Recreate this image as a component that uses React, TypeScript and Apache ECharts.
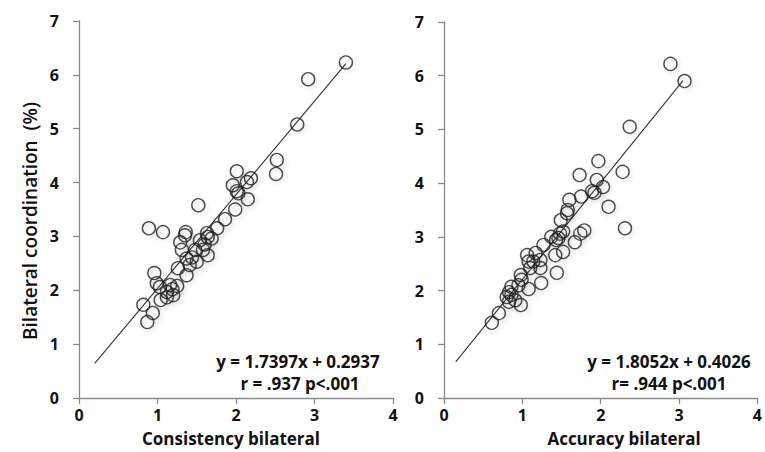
import React, { useEffect, useRef } from "react";
import * as echarts from "echarts";

const xTicks = [0, 1, 2, 3, 4];
const yTicks = [0, 1, 2, 3, 4, 5, 6, 7];

const consistencyX = [3.40, 2.92, 2.78, 2.52, 2.51, 2.01, 2.19, 2.14, 1.96, 2.01, 2.03, 2.15, 1.99, 1.86, 1.52, 1.76, 0.89, 1.07, 1.36, 1.35, 1.29, 1.63, 1.64, 1.54, 1.69, 1.31, 1.48, 1.58, 1.64, 1.37, 1.50, 1.26, 1.41, 1.37, 0.96, 0.99, 1.03, 1.16, 1.25, 1.12, 1.20, 1.04, 1.12, 0.82, 0.94, 0.87, 1.19, 1.44, 1.60];
const consistencyY = [6.23, 5.92, 5.08, 4.42, 4.16, 4.21, 4.08, 4.01, 3.95, 3.84, 3.80, 3.69, 3.50, 3.32, 3.58, 3.15, 3.15, 3.08, 3.08, 3.02, 2.89, 3.06, 2.99, 2.93, 2.96, 2.75, 2.75, 2.75, 2.65, 2.59, 2.53, 2.41, 2.47, 2.28, 2.32, 2.13, 2.06, 2.10, 2.08, 1.97, 1.91, 1.82, 1.87, 1.73, 1.58, 1.41, 2.02, 2.61, 2.85];

const accuracyX = [2.89, 3.07, 2.37, 1.97, 1.73, 2.28, 1.95, 2.03, 1.89, 1.92, 1.75, 1.60, 2.10, 1.58, 1.57, 1.49, 2.31, 1.79, 1.74, 1.67, 1.48, 1.43, 1.37, 1.52, 1.42, 1.27, 1.17, 1.06, 1.08, 1.14, 1.23, 1.10, 1.23, 1.44, 0.98, 0.99, 0.86, 0.95, 1.24, 1.08, 0.83, 0.80, 0.86, 0.91, 0.83, 0.98, 0.70, 0.61, 1.46, 1.52];
const accuracyY = [6.22, 5.90, 5.05, 4.41, 4.15, 4.21, 4.06, 3.93, 3.85, 3.82, 3.75, 3.69, 3.56, 3.50, 3.44, 3.31, 3.16, 3.12, 3.06, 2.90, 3.06, 2.94, 3.00, 2.72, 2.66, 2.85, 2.70, 2.66, 2.54, 2.54, 2.57, 2.42, 2.42, 2.33, 2.29, 2.20, 2.07, 2.10, 2.14, 2.03, 1.97, 1.88, 1.92, 1.82, 1.79, 1.73, 1.58, 1.40, 2.98, 3.10];

// regression fits: [slope, intercept], x range of the drawn line
const consistencyFit = [1.7397, 0.2937];
const consistencyRange = [0.2, 3.4];
const accuracyFit = [1.8052, 0.4026];
const accuracyRange = [0.15, 3.05];

const leftEquation = ["y = 1.7397x + 0.2937", "r = .937 p<.001"];
const rightEquation = ["y = 1.8052x + 0.4026", "r= .944 p<.001"];
const xNames = ["Consistency bilateral", "Accuracy bilateral"];
const yName = "Bilateral coordination  (%)";

const FONT = "'Open Sans', 'Liberation Sans', sans-serif";

function pairs(xs: number[], ys: number[]) {
  return xs.map((x, i) => [x, ys[i]]);
}
function fitLine(fit: number[], range: number[]) {
  return range.map((x) => [x, fit[0] * x + fit[1]]);
}

export default function App() {
  const ref = useRef<HTMLDivElement>(null);
  useEffect(() => {
    if (!ref.current) return;
    const chart = echarts.init(ref.current, undefined, { renderer: "svg" });
    const axisLine = { show: true, lineStyle: { color: "#8a8a8a", width: 1.3 } };
    const axisTick = { show: true, length: 6, lineStyle: { color: "#8a8a8a", width: 1.3 } };
    const labelStyle = { color: "#111", fontSize: 16, fontWeight: "bold" as const, fontFamily: FONT };
    const mkX = (gi: number) => ({
      type: "value",
      gridIndex: gi,
      min: xTicks[0],
      max: xTicks[xTicks.length - 1],
      interval: 1,
      axisLine,
      axisTick,
      splitLine: { show: false },
      axisLabel: { ...labelStyle, margin: 9 },
    });
    const mkY = (gi: number) => ({
      type: "value",
      gridIndex: gi,
      min: yTicks[0],
      max: yTicks[yTicks.length - 1],
      interval: 1,
      axisLine,
      axisTick,
      splitLine: { show: false },
      axisLabel: { ...labelStyle, margin: 20 },
    });
    const scatter = (gi: number, data: number[][]) => ({
      type: "scatter",
      xAxisIndex: gi,
      yAxisIndex: gi,
      data,
      symbol: "circle",
      symbolSize: 13,
      itemStyle: {
        color: "rgba(255,255,255,0)",
        borderColor: "#222",
        borderWidth: 1.4,
        shadowBlur: 4,
        shadowColor: "rgba(0,0,0,0.18)",
        shadowOffsetX: 2,
        shadowOffsetY: 2,
      },
      z: 3,
    });
    const line = (gi: number, data: number[][]) => ({
      type: "line",
      xAxisIndex: gi,
      yAxisIndex: gi,
      data,
      symbol: "none",
      lineStyle: { color: "#333", width: 1.1 },
      z: 2,
    });
    const txt = (x: number, y: number, text: string, size: number, weight: string, rot = 0) => ({
      type: "text",
      x,
      y,
      rotation: rot,
      style: {
        text,
        fill: "#111",
        font: `${weight} ${size}px ${FONT}`,
        textAlign: "center",
        textVerticalAlign: "middle",
      },
    });
    chart.setOption({
      animation: false,
      backgroundColor: "#fff",
      grid: [
        { left: 79, top: 21, width: 314, height: 377 },
        { left: 444, top: 22, width: 319, height: 376 },
      ],
      xAxis: [mkX(0), mkX(1)],
      yAxis: [mkY(0), mkY(1)],
      series: [
        line(0, fitLine(consistencyFit, consistencyRange)),
        scatter(0, pairs(consistencyX, consistencyY)),
        line(1, fitLine(accuracyFit, accuracyRange)),
        scatter(1, pairs(accuracyX, accuracyY)),
      ],
      graphic: [
        txt(231, 438, xNames[0], 17, "bold"),
        txt(624, 438, xNames[1], 17, "bold"),
        txt(30, 221, yName, 19, "600", Math.PI / 2),
        txt(298, 361, leftEquation[0], 17, "bold"),
        txt(300, 383, leftEquation[1], 17, "bold"),
        txt(669, 361, rightEquation[0], 17, "bold"),
        txt(669, 383, rightEquation[1], 17, "bold"),
      ],
    });
    return () => chart.dispose();
  }, []);
  return (
    <div
      ref={ref}
      style={{ position: "absolute", left: 0, top: 0, width: 765, height: 452, background: "#fff" }}
    />
  );
}
